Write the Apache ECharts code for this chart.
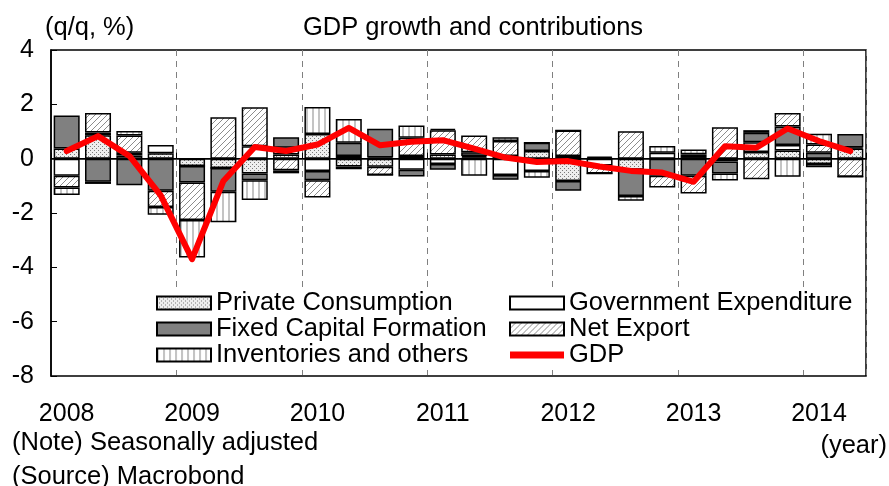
<!DOCTYPE html>
<html><head><meta charset="utf-8">
<script src="https://cdn.jsdelivr.net/npm/echarts@6/dist/echarts.min.js"></script>
<style>html,body{margin:0;padding:0;background:#fff}#c{width:889px;height:486px}</style>
</head><body><div id="c"></div>
<script>
const quarters = ['2008Q1','2008Q2','2008Q3','2008Q4','2009Q1','2009Q2','2009Q3','2009Q4',
  '2010Q1','2010Q2','2010Q3','2010Q4','2011Q1','2011Q2','2011Q3','2011Q4',
  '2012Q1','2012Q2','2012Q3','2012Q4','2013Q1','2013Q2','2013Q3','2013Q4','2014Q1','2014Q2'];
const privateConsumption = [0.37,0.86,0.12,0.20,-0.27,-0.34,-0.55,0.15,0.91,-0.29,-0.30,0.10,0.15,0.05,0.10,0.28,-0.82,0.03,-0.41,0.00,0.06,0.00,0.25,0.30,-0.20,0.37];
const governmentExpenditure = [-0.63,0.10,0.10,0.30,0.00,0.00,0.46,0.25,-0.45,0.10,0.04,-0.41,-0.20,0.05,-0.60,-0.45,0.10,-0.25,0.00,0.22,0.10,-0.10,0.35,0.20,-0.12,0.04];
const fixedCapital = [1.22,-0.85,-0.98,-1.18,-0.61,-0.88,-0.24,0.39,-0.34,0.49,1.06,-0.25,-0.21,0.14,-0.18,0.31,-0.36,0.05,-0.96,-0.63,-0.63,-0.45,0.35,0.68,0.22,0.50];
const netExport = [-0.43,0.72,0.63,-0.60,-1.38,1.52,1.43,-0.43,-0.64,-0.10,-0.30,0.67,0.90,0.61,0.55,0.00,0.94,-0.30,1.01,-0.43,-0.65,1.16,-0.76,0.50,0.30,-0.67];
const inventories = [-0.28,-0.08,0.17,-0.28,-1.38,-1.12,-0.73,-0.11,0.99,0.87,0.00,0.45,0.05,-0.63,0.14,-0.25,0.00,0.00,-0.18,0.25,0.18,-0.25,0.10,-0.67,0.40,0.00];
const gdp = [0.28,0.83,0.10,-1.35,-3.70,-0.82,0.43,0.28,0.52,1.13,0.49,0.62,0.68,0.37,0.04,-0.12,-0.09,-0.29,-0.45,-0.51,-0.85,0.46,0.40,1.11,0.65,0.28];
const yTicks = {min:-8, max:4, interval:2};

const FONT = '"Liberation Sans", Arial, sans-serif';
function pat(w,h,draw){const c=document.createElement('canvas');c.width=w;c.height=h;const g=c.getContext('2d');draw(g);return {image:c,repeat:'repeat'};}
const dotPat = pat(4,4,g=>{g.fillStyle='#eeeeee';g.fillRect(0,0,4,4);g.fillStyle='#7a7a7a';g.fillRect(0,0,1,1);g.fillRect(2,2,1,1);});
const hatchPat = pat(6,6,g=>{g.fillStyle='#fff';g.fillRect(0,0,6,6);g.strokeStyle='#8c8c8c';g.lineWidth=1;
  g.beginPath();g.moveTo(0,6);g.lineTo(6,0);g.moveTo(-1,1);g.lineTo(1,-1);g.moveTo(5,7);g.lineTo(7,5);g.stroke();});
const vertPat = pat(6,2,g=>{g.fillStyle='#fff';g.fillRect(0,0,6,2);g.fillStyle='#c4c4c4';g.fillRect(0,0,2,2);});

function bar(name, data, color, extra){
  return Object.assign({name, type:'bar', stack:'total', data, barCategoryGap:'17%',
    itemStyle:{color, borderColor:'#000', borderWidth:1.5}, emphasis:{disabled:true}}, extra||{});
}
const chart = echarts.init(document.getElementById('c'), null, {renderer:'canvas'});
const legendBase = {orient:'vertical', icon:'rect', itemWidth:54, itemHeight:13, itemGap:0, padding:[3,8,2,5],
  backgroundColor:'#fff', selectedMode:false, textStyle:{fontSize:25.5, fontFamily:FONT, color:'#000', lineHeight:25.5}};
chart.setOption({
  animation:false,
  textStyle:{fontFamily:FONT},
  grid:{left:51, right:23, top:50, bottom:110, show:true, borderColor:'#000', borderWidth:1.5, containLabel:false},
  legend:[
    Object.assign({left:151, top:287, data:['Private Consumption','Fixed Capital Formation','Inventories and others']}, legendBase),
    Object.assign({left:504, top:287, data:['Government Expenditure','Net Export',
      {name:'GDP', icon:'path://M0,0L55,0L55,7L0,7Z', itemStyle:{color:'#ff0000', borderWidth:0}}]}, legendBase)
  ],
  xAxis:{type:'category', data:quarters, boundaryGap:true,
    axisLine:{show:true, lineStyle:{color:'#000', width:1.5}},
    axisTick:{show:true, inside:true, length:6, interval:(i)=>i%4===0, lineStyle:{color:'#000', width:1}},
    axisLabel:{interval:(i)=>i%4===0, formatter:(v)=>v.slice(0,4), margin:26, fontSize:25, color:'#000', fontFamily:FONT},
    splitLine:{show:true, interval:(i)=>i%4===0 && i>0, lineStyle:{color:'#808080', width:1, type:[6,5]}}
  },
  yAxis:{type:'value', min:yTicks.min, max:yTicks.max, interval:yTicks.interval,
    axisLine:{show:true, lineStyle:{color:'#000', width:1.5}},
    axisTick:{show:true, inside:true, length:6, lineStyle:{color:'#000'}},
    axisLabel:{fontSize:25, color:'#000', margin:17, fontFamily:FONT},
    splitLine:{show:false}
  },
  graphic:[
    {type:'text', x:45, y:28, style:{text:'(q/q, %)', fontSize:25.5, fontFamily:FONT, fill:'#000', align:'left', verticalAlign:'middle'}},
    {type:'text', x:473, y:28, style:{text:'GDP growth and contributions', fontSize:25.5, fontFamily:FONT, fill:'#000', align:'center', verticalAlign:'middle'}},
    {type:'text', x:12, y:443, style:{text:'(Note) Seasonally adjusted', fontSize:25.5, fontFamily:FONT, fill:'#000', align:'left', verticalAlign:'middle'}},
    {type:'text', x:12, y:477, style:{text:'(Source) Macrobond', fontSize:25.5, fontFamily:FONT, fill:'#000', align:'left', verticalAlign:'middle'}},
    {type:'text', x:887, y:446, style:{text:'(year)', fontSize:25.5, fontFamily:FONT, fill:'#000', align:'right', verticalAlign:'middle'}}
  ],
  series:[
    bar('Private Consumption', privateConsumption, dotPat, {markLine:{silent:true, symbol:'none', label:{show:false},
      lineStyle:{color:'#000', width:1, type:'solid'}, data:[{yAxis:0}], z:4}}),
    bar('Government Expenditure', governmentExpenditure, '#ffffff'),
    bar('Fixed Capital Formation', fixedCapital, '#808080'),
    bar('Net Export', netExport, hatchPat),
    bar('Inventories and others', inventories, vertPat),
    {name:'GDP', type:'line', data:gdp, symbol:'none', showSymbol:false, z:5,
      lineStyle:{color:'#ff0000', width:6, cap:'round', join:'round'}, itemStyle:{color:'#ff0000'}, emphasis:{disabled:true}}
  ]
});
</script></body></html>
